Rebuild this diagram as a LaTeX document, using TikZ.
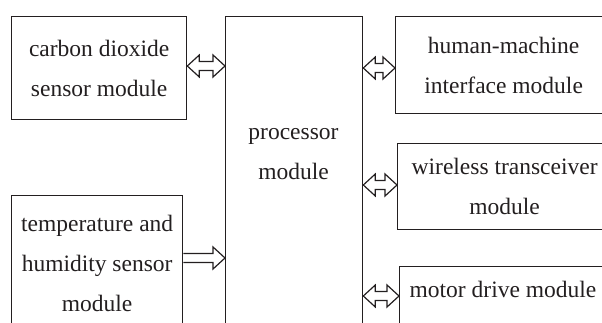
\documentclass[tikz,border=0pt]{standalone}
\usepackage{fontspec}
\setmainfont{Liberation Serif}
\usetikzlibrary{calc}
\definecolor{ink}{RGB}{35,31,32}
\tikzset{module/.style={draw=ink,line width=1.3pt,inner sep=0pt,text=ink,align=center,
    font=\fontsize{23.5}{40}\selectfont}}

\begin{document}
\begin{tikzpicture}[x=1pt,y=-1pt,
    modtext/.style={text=ink,align=center,inner sep=0pt,font=\fontsize{23.5}{40}\selectfont},
    bus/.style={draw=ink,line width=1.2pt,line join=miter,
        to path={let \p1=(\tikztostart), \p2=(\tikztotarget) in
            (\x1,\y1) -- (\x1+12pt,\y1+11pt) -- (\x1+12pt,\y1+4.5pt) -- (\x2-12pt,\y1+4.5pt)
            -- (\x2-12pt,\y1+11pt) -- (\x2,\y1) -- (\x2-12pt,\y1-11pt) -- (\x2-12pt,\y1-4.5pt)
            -- (\x1+12pt,\y1-4.5pt) -- (\x1+12pt,\y1-11pt) -- cycle}},
    feed/.style={draw=ink,line width=1.2pt,line join=miter,
        to path={let \p1=(\tikztostart), \p2=(\tikztotarget) in
            (\x1,\y1+4.5pt) -- (\x2-12pt,\y1+4.5pt) -- (\x2-12pt,\y1+11pt) -- (\x2,\y1)
            -- (\x2-12pt,\y1-11pt) -- (\x2-12pt,\y1-4.5pt) -- (\x1,\y1-4.5pt)}}]
    \useasboundingbox (0,0) rectangle (602,323);
    \clip (0,0) rectangle (602,323);

    % left side
    \node[module,minimum width=175,minimum height=103,anchor=north west] (co2) at (11,16)
        {carbon dioxide\\sensor module};
    \node[module,minimum width=171,minimum height=135,anchor=north west] (temp) at (11,195)
        {temperature and\\humidity sensor\\module};

    % processor
    \node[module,minimum width=137,minimum height=330,anchor=north west] (proc) at (225,16) {};
    \node[modtext] (proctext) at (293.5,154) {processor\\module};

    % right side
    \node[module,minimum width=216,minimum height=97,anchor=north west] (hmi) at (395,16)
        {human-machine\\interface module};
    \node[module,minimum width=214,minimum height=86,anchor=north west] (wireless) at (397,143)
        {wireless transceiver\\module};
    \node[module,minimum width=212,minimum height=90,anchor=north west] (motor) at (399,266) {};
    \node[modtext] (motortext) at (503,289) {motor drive module};

    % links
    \draw[bus] ($(co2.north east)+(0,50)$) to (proc.west);
    \draw[feed] ($(temp.north east)+(0,63)$) to (proc.west);
    \draw[bus] ($(proc.east |- hmi.north)+(0,52)$) to (hmi.west);
    \draw[bus] ($(proc.east |- wireless.north)+(0,42)$) to (wireless.west);
    \draw[bus] ($(proc.east |- motor.north)+(0,30)$) to (motor.west);
\end{tikzpicture}
\end{document}
